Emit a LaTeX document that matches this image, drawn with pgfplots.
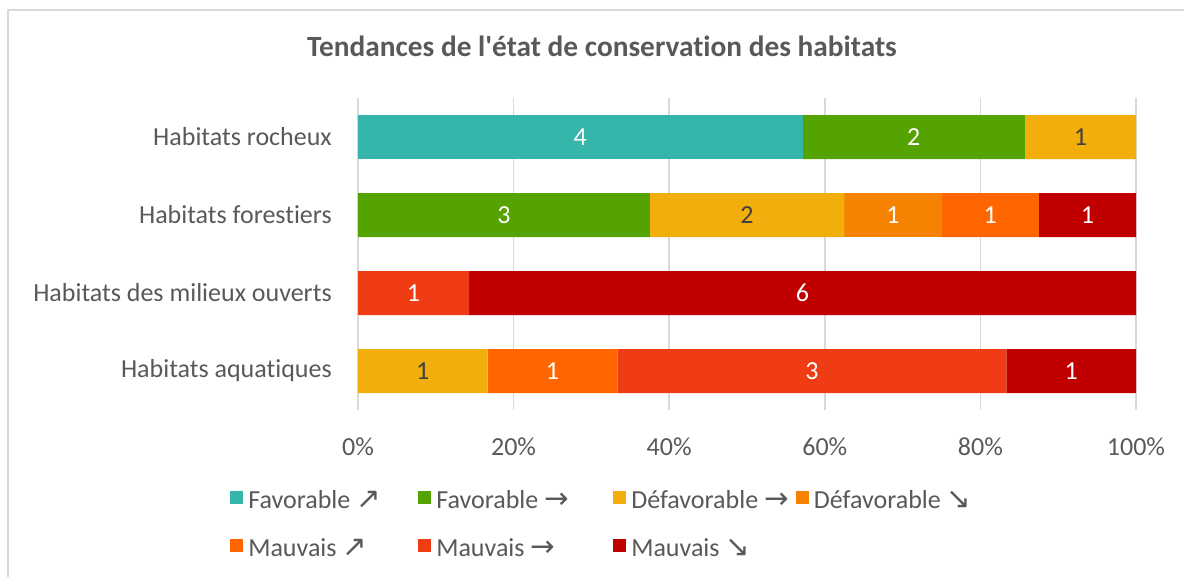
\documentclass[border=0pt]{standalone}
\usepackage{pgfplots}
\pgfplotsset{compat=1.18}
\usepackage{fontspec}
\setmainfont{Carlito}[Ligatures=CommonOff]
\newfontfamily\arrowfont{DejaVu Sans}
\newcommand\arr[1]{{\fontsize{22pt}{20pt}\arrowfont\raisebox{-0.5pt}{#1}}}
\definecolor{txtgray}{HTML}{595959}
\definecolor{gridgray}{HTML}{D9D9D9}
\definecolor{cFavUp}{HTML}{36B5AA}
\definecolor{cFavEq}{HTML}{55A300}
\definecolor{cDefEq}{HTML}{F2AE0A}
\definecolor{cDefDn}{HTML}{F58200}
\definecolor{cMauUp}{HTML}{FF6600}
\definecolor{cMauEq}{HTML}{F03C14}
\definecolor{cMauDn}{HTML}{C00000}
\definecolor{lbldark}{HTML}{404040}
\begin{document}
\begin{tikzpicture}
\useasboundingbox (0,0) rectangle (888pt,432pt);
\begin{scope}
\clip (0,0) rectangle (888pt,432pt);
\draw[gridgray, line width=1.2pt] (6pt,-20pt) rectangle (900pt,424.5pt);
\end{scope}
\node[anchor=base, text=txtgray, font=\fontsize{22pt}{26pt}\selectfont\bfseries] at (451.5pt,389.25pt) {Tendances de l\textquotesingle état de conservation des habitats};
\begin{axis}[
  at={(268.5pt,124.5pt)}, anchor=south west,
  scale only axis, width=583.5pt, height=234pt,
  xbar stacked, bar width=33pt,
  xmin=0, xmax=100, ymin=-0.5, ymax=3.5,
  xtick={0,20,40,60,80,100},
  xticklabels={0\%,20\%,40\%,60\%,80\%,100\%},
  ytick={0,1,2,3},
  yticklabels={Habitats aquatiques,Habitats des milieux ouverts,Habitats forestiers,Habitats rocheux},
  major tick length=0pt,
  axis line style={draw=none},
  xmajorgrids, grid style={gridgray, line width=1.1pt},
  ymajorgrids=false,
  tick label style={text=txtgray, font=\fontsize{19.5pt}{23pt}\selectfont},
  yticklabel style={anchor=east, inner sep=0pt, xshift=-19.5pt},
  xticklabel style={anchor=north, inner sep=0pt, yshift=-20.25pt},
  legend image code/.code={\fill[#1] (0pt,-1pt) rectangle (9.75pt,8.75pt);},
  legend columns=4,
  legend style={draw=none, at={(-0.1645,-0.2540)}, anchor=north west, inner sep=0pt,
    font=\fontsize{19.5pt}{23pt}\selectfont, text=txtgray,
    nodes={inner sep=0pt, text height=14pt, text depth=5pt},
    row sep=17pt,
    /tikz/every odd column/.append style={column sep=3.75pt}},
]
\addplot[fill=cFavUp, draw=none] coordinates {(0,0) (0,1) (0,2) (57.143,3)};
\addlegendentry{\makebox[127.5pt][l]{Favorable \arr{↗}}}
\addplot[fill=cFavEq, draw=none] coordinates {(0,0) (0,1) (37.5,2) (28.571,3)};
\addlegendentry{\makebox[132.75pt][l]{Favorable \arr{→}}}
\addplot[fill=cDefEq, draw=none] coordinates {(16.667,0) (0,1) (25,2) (14.286,3)};
\addlegendentry{\makebox[123.5pt][l]{Défavorable \arr{→}}}
\addplot[fill=cDefDn, draw=none] coordinates {(0,0) (0,1) (12.5,2) (0,3)};
\addlegendentry{Défavorable \arr{↘}}
\addplot[fill=cMauUp, draw=none] coordinates {(16.667,0) (0,1) (12.5,2) (0,3)};
\addlegendentry{\makebox[127.5pt][l]{Mauvais \arr{↗}}}
\addplot[fill=cMauEq, draw=none] coordinates {(50,0) (14.286,1) (0,2) (0,3)};
\addlegendentry{\makebox[132.75pt][l]{Mauvais \arr{→}}}
\addplot[fill=cMauDn, draw=none] coordinates {(16.667,0) (85.714,1) (12.5,2) (0,3)};
\addlegendentry{\makebox[123.5pt][l]{Mauvais \arr{↘}}}
\end{axis}
\begin{axis}[
  at={(268.5pt,124.5pt)}, anchor=south west,
  scale only axis, width=583.5pt, height=234pt,
  xmin=0, xmax=100, ymin=-0.5, ymax=3.5,
  hide axis,
  point meta=explicit symbolic,
  nodes near coords,
  every node near coord/.append style={anchor=center, inner sep=0pt, font=\fontsize{19.5pt}{23pt}\selectfont},
]
\addplot[only marks, mark=*, mark size=0pt, every node near coord/.append style={text=white}] coordinates {
  (28.571,3) [4] (71.429,3) [2]
  (18.75,2) [3] (68.75,2) [1] (81.25,2) [1] (93.75,2) [1]
  (7.143,1) [1] (57.143,1) [6]
  (25,0) [1] (58.333,0) [3] (91.667,0) [1]};
\addplot[only marks, mark=*, mark size=0pt, every node near coord/.append style={text=lbldark}] coordinates {
  (92.857,3) [1] (50,2) [2] (8.333,0) [1]};
\end{axis}
\end{tikzpicture}
\end{document}
